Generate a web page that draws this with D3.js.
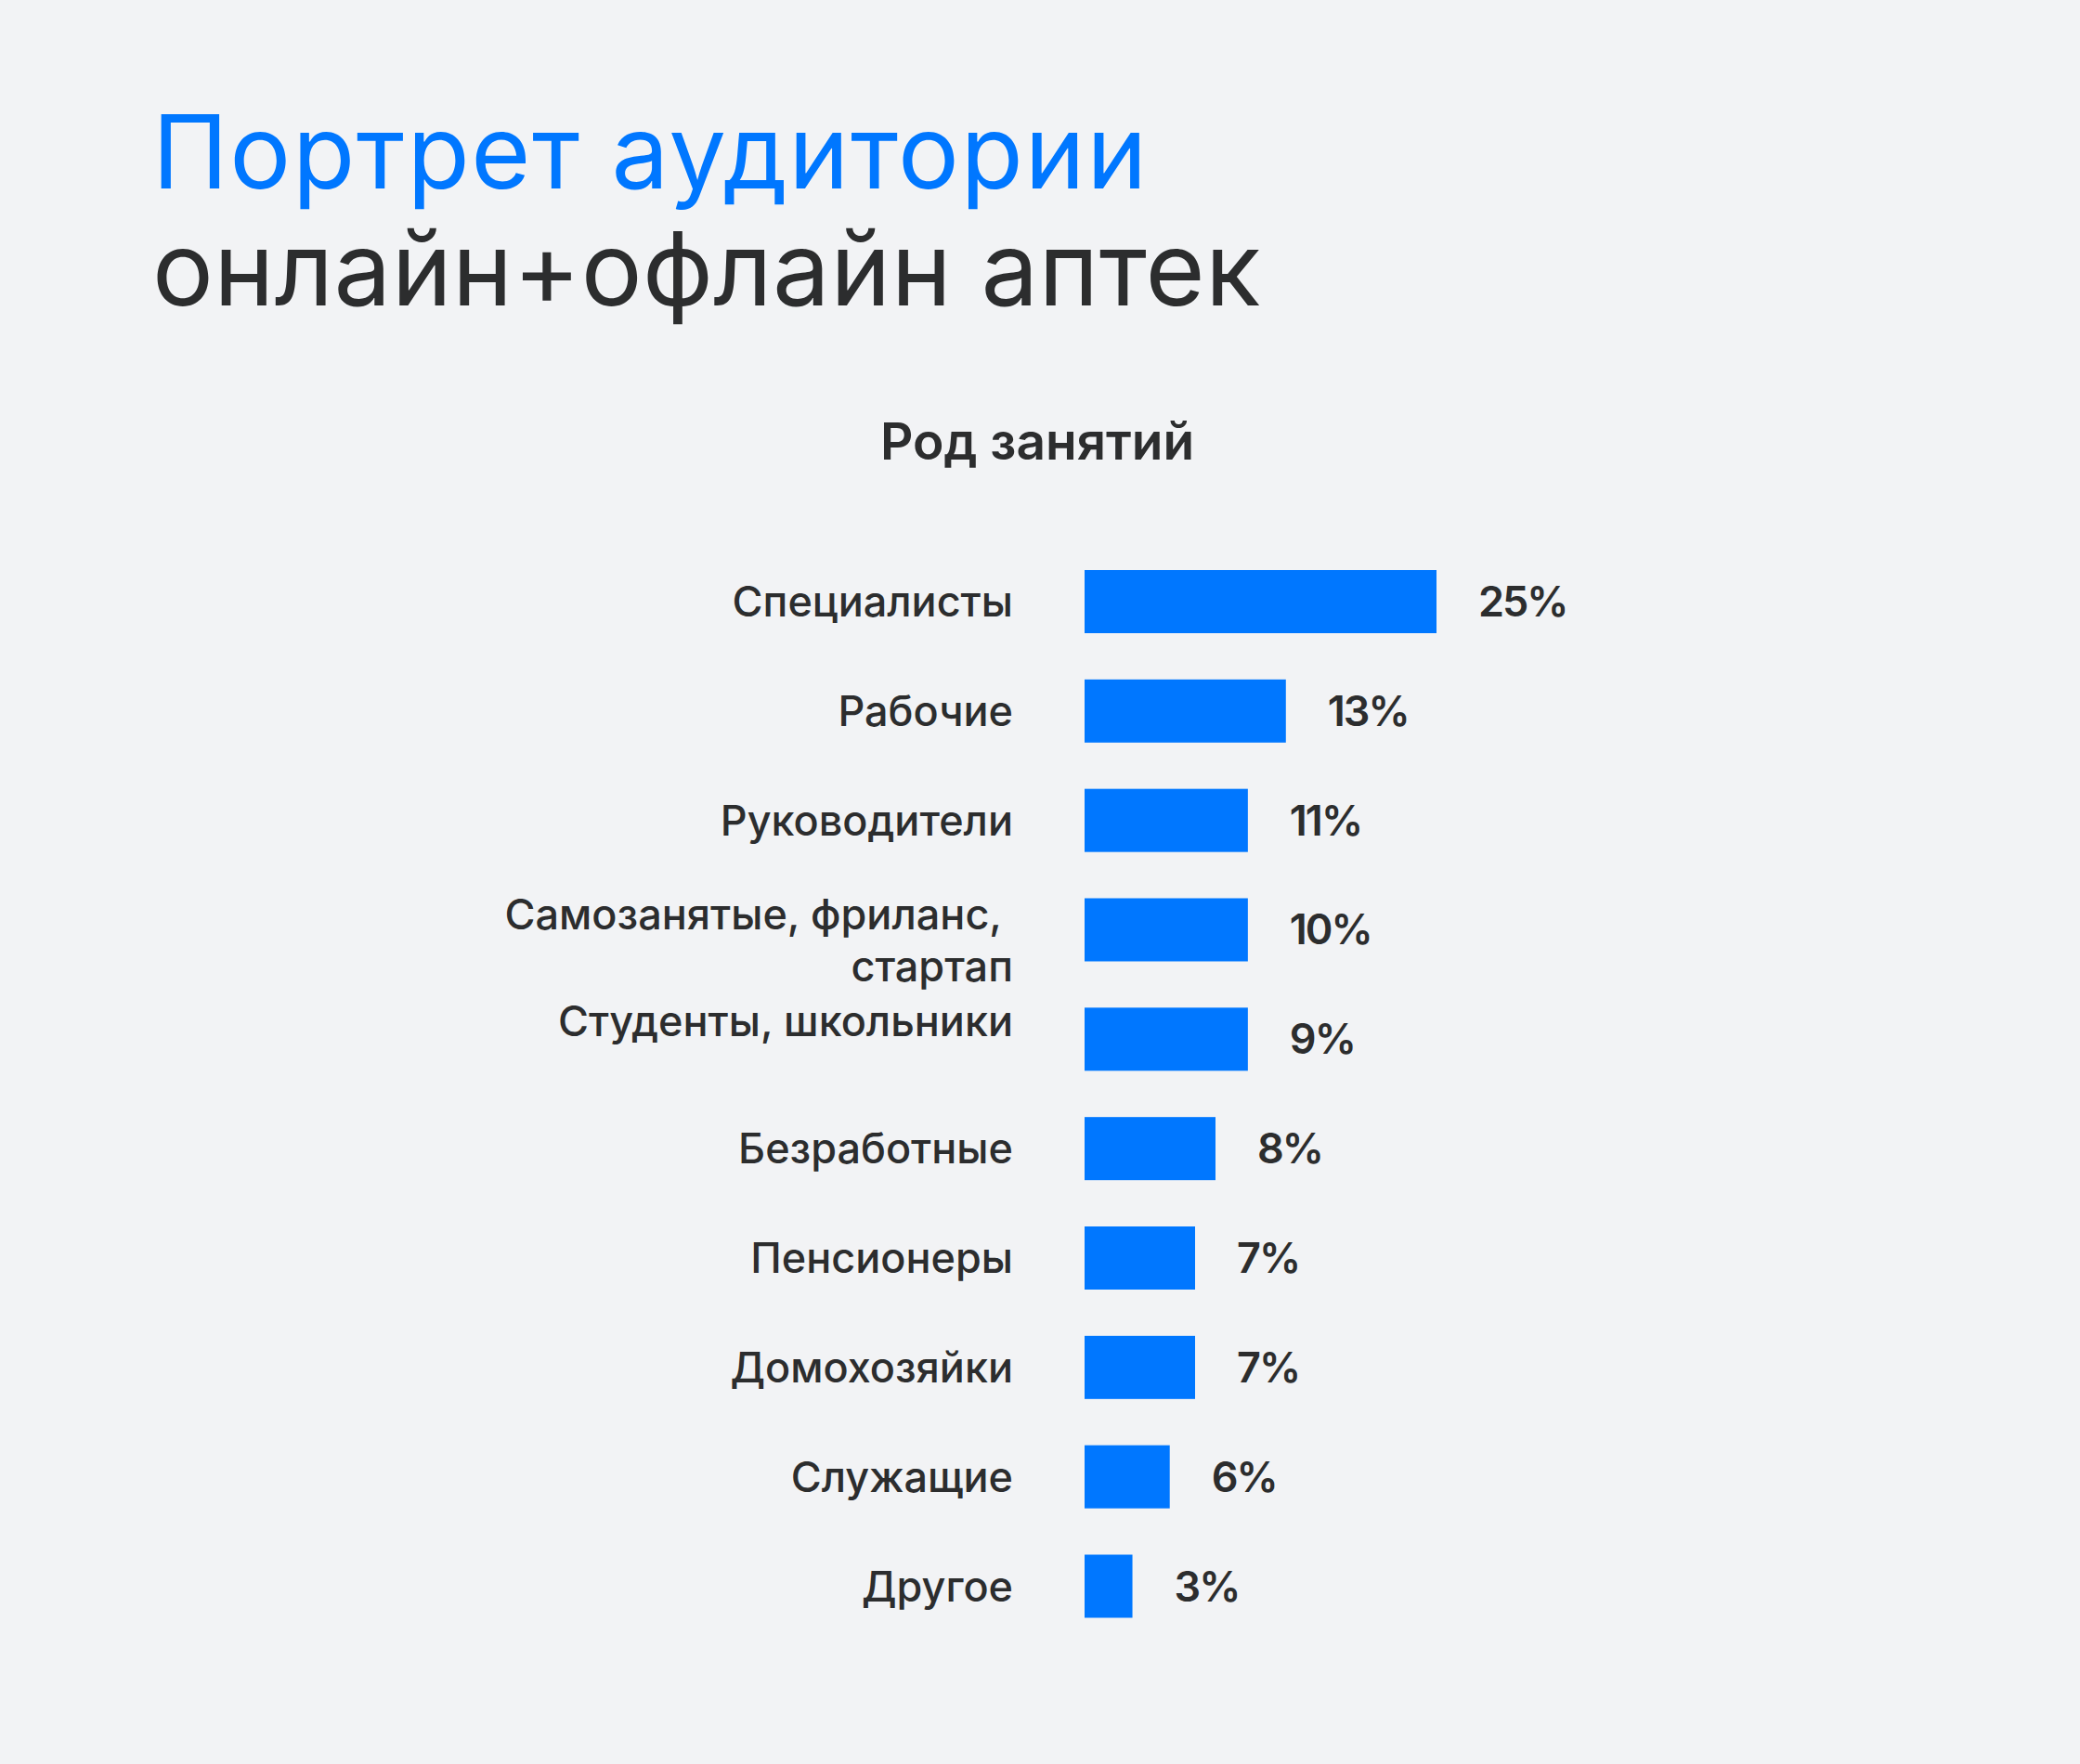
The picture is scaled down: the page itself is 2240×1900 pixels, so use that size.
<!DOCTYPE html>
<html>
<head>
<meta charset="utf-8">
<script src="https://cdn.jsdelivr.net/npm/d3@7"></script>
<style>
  html, body { margin: 0; padding: 0; background: #f2f3f5; }
  svg { display: block; }
  text { font-family: Inter, "Noto Sans", sans-serif; }
</style>
</head>
<body>
<svg width="2240" height="1900"></svg>
<script>
// chart data
const titleLines = ["Портрет аудитории", "онлайн+офлайн аптек"];
const subtitle = "Род занятий";
const categories = [
    "Специалисты",
    "Рабочие",
    "Руководители",
    "Самозанятые, фриланс,\u00a0\nстартап",
    "Студенты, школьники",
    "Безработные",
    "Пенсионеры",
    "Домохозяйки",
    "Служащие",
    "Другое"
];
// bar lengths as drawn (in %)
const barValues = [25, 14.3, 11.6, 11.6, 11.6, 9.3, 7.85, 7.85, 6.05, 3.4];
// printed labels
const valueLabels = ["25%", "13%", "11%", "10%", "9%", "8%", "7%", "7%", "6%", "3%"];

const svg = d3.select('svg');
const width = +svg.attr("width");
const height = +svg.attr("height");
const blue = "#0077ff";
const dark = "#2c2d2e";

svg.append("rect").attr("width", width).attr("height", height).attr("fill", "#f2f3f5");

// title
svg.append("text")
    .attr("x", 164).attr("y", 203)
    .attr("fill", blue)
    .attr("font-size", "110px")
    .attr("font-weight", 400)
    .attr("letter-spacing", "1.6px")
    .text(titleLines[0]);
svg.append("text")
    .attr("x", 164).attr("y", 329)
    .attr("fill", dark)
    .attr("font-size", "110px")
    .attr("font-weight", 400)
    .attr("letter-spacing", "0.4px")
    .text(titleLines[1]);

svg.append("text")
    .attr("x", 1117).attr("y", 495)
    .attr("text-anchor", "middle")
    .attr("fill", dark)
    .attr("font-size", "55px")
    .attr("font-weight", 600)
    .text(subtitle);

//define scales
const xscale = d3.scaleLinear().domain([0, 25]).range([1168, 1547]);
const yscale = d3.scaleBand().domain(categories).range([614, 1742.5]).paddingInner(0.423).paddingOuter(0);

const chart = svg.append("g").attr("id", "bars");

chart.selectAll(".bar")
    .data(categories)
    .enter()
    .append("rect")
    .attr("class", "bar")
    .attr("x", xscale(0))
    .attr("y", d => yscale(d))
    .attr("width", (d, i) => xscale(barValues[i]) - xscale(0))
    .attr("height", yscale.bandwidth())
    .attr("fill", blue);

// value labels
chart.selectAll(".val")
    .data(categories)
    .enter()
    .append("text")
    .attr("class", "val")
    .attr("x", (d, i) => xscale(barValues[i]) + 45)
    .attr("y", d => yscale(d) + yscale.bandwidth() / 2 + 16)
    .attr("fill", dark)
    .attr("font-size", "45px")
    .attr("font-weight", 600)
    .attr("letter-spacing", "-2px")
    .text((d, i) => valueLabels[i]);

// category labels (a few sit a bit higher than the bar centre in the original)
const labelShift = { 3: -16, 4: -19 };
const lineH = 56;
const cat = chart.selectAll(".cat")
    .data(categories)
    .enter()
    .append("text")
    .attr("class", "cat")
    .attr("text-anchor", "end")
    .attr("fill", dark)
    .attr("font-size", "45px")
    .attr("font-weight", 500)
    .attr("y", (d, i) => yscale(d) + yscale.bandwidth() / 2 + 16 + (labelShift[i] || 0));

cat.selectAll("tspan")
    .data(d => d.split("\n"))
    .enter()
    .append("tspan")
    .attr("x", 1091)
    .attr("dy", (d, i) => i === 0 ? 0 : lineH)
    .text(d => d);
</script>
</body>
</html>
